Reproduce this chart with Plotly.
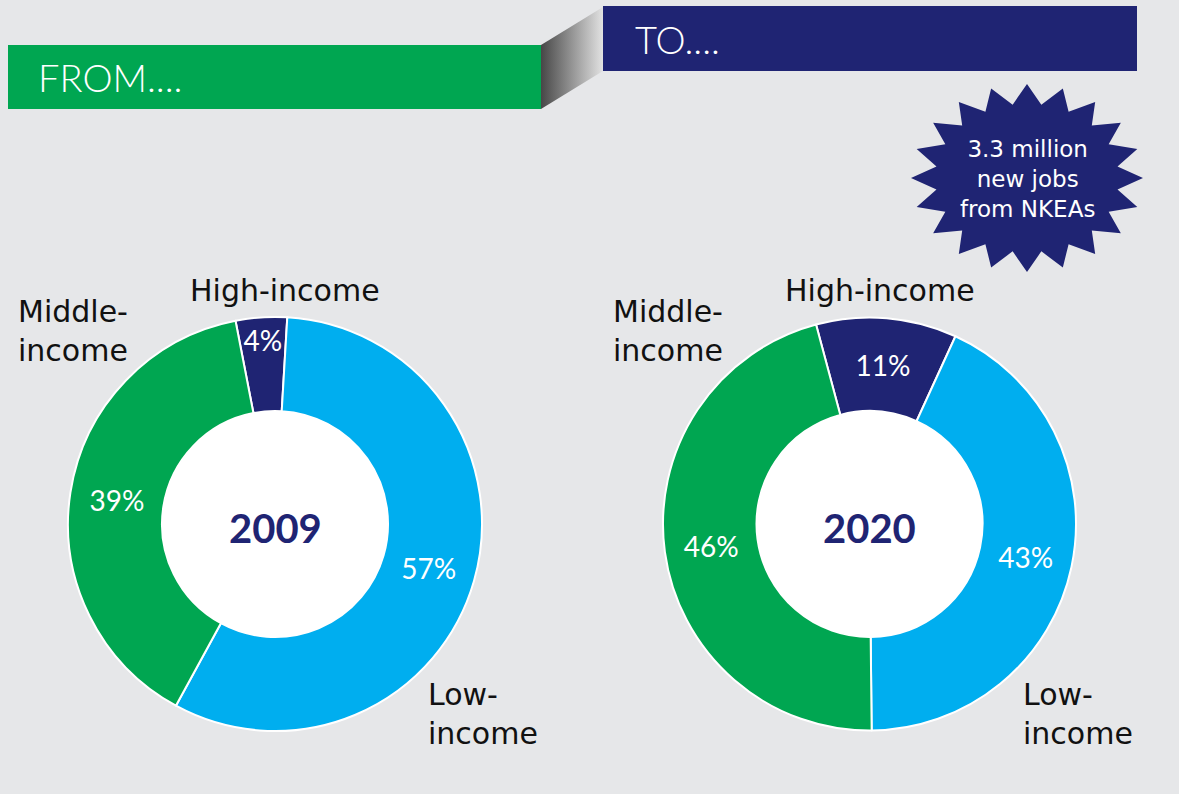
import numpy as np
import plotly.graph_objects as go

# ---- data ----
categories = ["High-income", "Low-income", "Middle-income"]
shares_2009 = [4, 57, 39]
shares_2020 = [11, 43, 46]
years = ["2009", "2020"]
slice_colors = ["#1f2473", "#00aeef", "#00a651"]
banner_from = "FROM...."
banner_to = "TO...."
burst_text = "3.3 million<br>new jobs<br>from NKEAs"

W, H = 1179, 794
BG = "#e6e7e9"
NAVY = "#1f2473"
GREEN = "#00a651"
FONT = "Lato"
LFONT = "DejaVu Sans"

fig = go.Figure()

# pixel-coordinate helper axes (hidden)
fig.update_layout(
    xaxis=dict(range=[0, W], visible=False, fixedrange=True, domain=[0, 1]),
    yaxis=dict(range=[H, 0], visible=False, fixedrange=True, domain=[0, 1]),
)

def px_dom(cx, cy, r):
    return dict(x=[(cx - r) / W, (cx + r) / W], y=[1 - (cy + r) / H, 1 - (cy - r) / H])

pies = [
    dict(vals=shares_2009, cx=275, cy=524, r=207, rot=-11),
    dict(vals=shares_2020, cx=869.5, cy=524, r=206.5, rot=-15),
]
hole_r = 113

# connector with gradient
fig.add_trace(go.Scatter(
    x=[541, 603, 603, 541, 541], y=[45, 7, 71, 109, 45],
    mode="lines", line=dict(width=0), fill="toself",
    fillgradient=dict(type="horizontal", start=541, stop=603,
                      colorscale=[[0, "#474747"], [1, "#e2e2e2"]]),
    hoverinfo="skip", showlegend=False,
))

shapes = []
# banners
shapes.append(dict(type="rect", xref="x", yref="y", x0=8, x1=541, y0=45, y1=109,
                   fillcolor=GREEN, line=dict(width=0), layer="below"))
shapes.append(dict(type="rect", xref="x", yref="y", x0=603, x1=1137, y0=6, y1=71,
                   fillcolor=NAVY, line=dict(width=0), layer="below"))

# starburst
n = 20
cx_b, cy_b, rx, ry, k = 1027, 178, 116, 94, 0.79
pts = []
for i in range(2 * n):
    a = -np.pi / 2 + i * np.pi / n
    f = 1 if i % 2 == 0 else k
    pts.append((cx_b + rx * f * np.cos(a), cy_b + ry * f * np.sin(a)))
path = "M " + " L ".join(f"{x:.2f},{y:.2f}" for x, y in pts) + " Z"
shapes.append(dict(type="path", xref="x", yref="y", path=path,
                   fillcolor=NAVY, line=dict(width=0), layer="below"))

annotations = []
for p, yr in zip(pies, years):
    fig.add_trace(go.Pie(
        values=p["vals"], labels=categories, sort=False, direction="clockwise",
        rotation=p["rot"], hole=hole_r / p["r"],
        marker=dict(colors=slice_colors, line=dict(color="white", width=2)),
        texttemplate="%{value}%", textposition="inside",
        insidetextorientation="horizontal",
        textfont=dict(family=FONT, size=28, color="white"),
        domain=px_dom(p["cx"], p["cy"], p["r"]),
        hoverinfo="skip", showlegend=False,
    ))
    shapes.append(dict(type="circle", xref="x", yref="y",
                       x0=p["cx"] - hole_r, x1=p["cx"] + hole_r,
                       y0=p["cy"] - hole_r, y1=p["cy"] + hole_r,
                       fillcolor="white", line=dict(width=0), layer="below"))
    annotations.append(dict(x=p["cx"], y=p["cy"] + 4, xref="x", yref="y", text=f"<b>{yr}</b>",
                            showarrow=False, font=dict(family=FONT, size=40, color=NAVY)))

# category labels
lab_font = dict(family=LFONT, size=30, color="#111111")
def lab(x, y, t, xa="left"):
    annotations.append(dict(x=x, y=y, xref="x", yref="y", text=t, showarrow=False,
                            xanchor=xa, yanchor="middle", align="left", font=lab_font))

for dx, p in zip([0, 594.5], pies):
    lab(285 + dx, 290, categories[0], "center")
    lab(16 + dx, 331, "Middle-<br>income")
    lab(426 + dx, 714, "Low-<br>income")

annotations.append(dict(x=36, y=77, xref="x", yref="y", text=banner_from, showarrow=False,
                        xanchor="left", yanchor="middle",
                        font=dict(family=FONT, size=38, color="white", weight=300)))
annotations.append(dict(x=633, y=39, xref="x", yref="y", text=banner_to, showarrow=False,
                        xanchor="left", yanchor="middle",
                        font=dict(family=FONT, size=38, color="white", weight=300)))
annotations.append(dict(x=cx_b, y=cy_b + 1, xref="x", yref="y", text=burst_text, showarrow=False,
                        xanchor="center", yanchor="middle", align="center",
                        font=dict(family=LFONT, size=23, color="white")))

fig.update_layout(
    width=W, height=H, margin=dict(l=0, r=0, t=0, b=0),
    paper_bgcolor=BG, plot_bgcolor=BG,
    shapes=shapes, annotations=annotations,
    uniformtext=dict(mode="show", minsize=28),
    showlegend=False,
)

fig.write_html("out.html", config={"displayModeBar": False},
               post_script="document.body.style.margin='0';document.body.style.background='#e6e7e9';")
